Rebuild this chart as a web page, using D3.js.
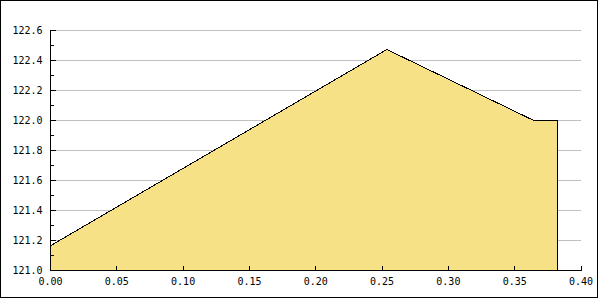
<!DOCTYPE html>
<html>
<head>
<meta charset="utf-8">
<script src="https://cdn.jsdelivr.net/npm/d3@7"></script>
<style>
  html, body { margin: 0; padding: 0; background: #fff; }
  svg { display: block; }
  text { font-family: "DejaVu Sans Mono", monospace; font-size: 10px; fill: #000; }
</style>
</head>
<body>
<svg id="chart" width="600" height="300"></svg>
<script>
// Data
const xValues = [0.0, 0.254, 0.364, 0.383];
const yValues = [121.16, 122.47, 122.0, 122.0];
const baseline = 121.0;
const xTicks = [0.00, 0.05, 0.10, 0.15, 0.20, 0.25, 0.30, 0.35, 0.40];
const yTicks = [121.0, 121.2, 121.4, 121.6, 121.8, 122.0, 122.2, 122.4, 122.6];
const yMinorTicks = [121.1, 121.3, 121.5, 121.7, 121.9, 122.1, 122.3, 122.5];

(function () {
const svg = d3.select("#chart");
const mLeft = 50, mRight = 580.5, mTop = 30, mBottom = 270;

const x = d3.scaleLinear().domain([0, 0.40]).range([mLeft, mRight]);
const y = d3.scaleLinear().domain([121.0, 122.6]).range([mBottom, mTop]);

// outer border
svg.append("rect").attr("x", 0.5).attr("y", 0.5).attr("width", 597).attr("height", 297)
  .attr("fill", "#fff").attr("stroke", "#000").attr("stroke-width", 1)
  .attr("shape-rendering", "crispEdges");

// grid lines
svg.append("g").attr("shape-rendering", "crispEdges")
  .selectAll("line").data(yTicks.slice(1)).join("line")
  .attr("x1", mLeft).attr("x2", mRight)
  .attr("y1", d => Math.round(y(d)) + 0.5).attr("y2", d => Math.round(y(d)) + 0.5)
  .attr("stroke", "#c0c0c0").attr("stroke-width", 1);

const pts = xValues.map((v, i) => [v, yValues[i]]);

// area
const area = d3.area().x(d => x(d[0])).y0(y(baseline)).y1(d => y(d[1]));
svg.append("path").datum(pts).attr("d", area).attr("fill", "#f6e186").attr("stroke", "none");

// outline
const outline = pts.concat([[xValues[xValues.length - 1], baseline]]);
const line = d3.line().x(d => x(d[0])).y(d => y(d[1]));
svg.append("path").datum(outline).attr("d", line)
  .attr("fill", "none").attr("stroke", "#000").attr("stroke-width", 1)
  .attr("shape-rendering", "crispEdges");

// Y axis
const yAxis = d3.axisRight(y).tickValues(yTicks).tickSize(5).tickFormat(d3.format(".1f"));
const gy = svg.append("g").attr("transform", `translate(${mLeft + 0.5},0)`)
  .attr("shape-rendering", "crispEdges").call(yAxis);
gy.select(".domain").attr("d", `M0,${mTop}V${mBottom + 0.5}`).attr("stroke", "#000");
gy.selectAll(".tick line").attr("stroke", "#000");
gy.selectAll(".tick text").attr("x", -8).attr("text-anchor", "end")
  .style("font-family", '"DejaVu Sans Mono", monospace').style("font-size", "10px");
// minor ticks
svg.append("g").attr("shape-rendering", "crispEdges")
  .selectAll("line").data(yMinorTicks).join("line")
  .attr("x1", mLeft).attr("x2", mLeft + 4)
  .attr("y1", d => Math.round(y(d)) + 0.5).attr("y2", d => Math.round(y(d)) + 0.5)
  .attr("stroke", "#000");

// X axis
const xAxis = d3.axisTop(x).tickValues(xTicks).tickSize(5).tickFormat(d3.format(".2f"));
const gx = svg.append("g").attr("transform", `translate(0,${mBottom + 0.5})`)
  .attr("shape-rendering", "crispEdges").call(xAxis);
gx.select(".domain").attr("d", `M${mLeft},0H${mRight}`).attr("stroke", "#000");
gx.selectAll(".tick line").attr("stroke", "#000");
gx.selectAll(".tick text").attr("y", 14).attr("dy", "0").attr("text-anchor", "middle")
  .style("font-family", '"DejaVu Sans Mono", monospace').style("font-size", "10px");
})();
</script>
</body>
</html>
